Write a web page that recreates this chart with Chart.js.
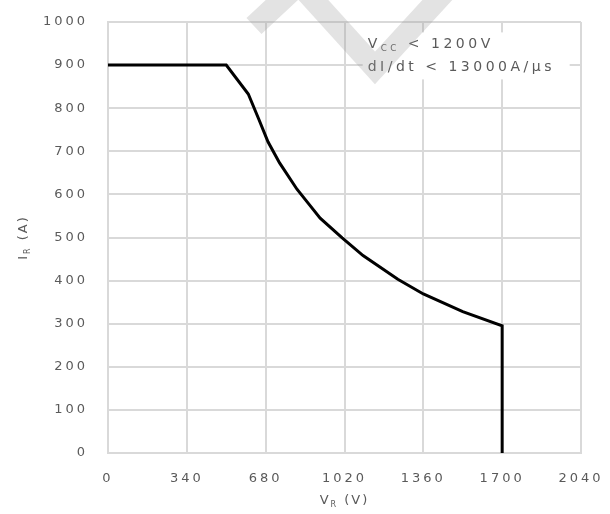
<!DOCTYPE html>
<html>
<head>
<meta charset="utf-8">
<script src="https://cdn.jsdelivr.net/npm/chart.js@4.4.0/dist/chart.umd.min.js"></script>
<style>
  body { margin: 0; background: #fff; }
  #wrap { width: 610px; height: 514px; }
</style>
</head>
<body>
<div id="wrap"><canvas id="rbsoa" width="610" height="514"></canvas></div>
<script>
// reverse bias safe operating area
const vR = [0, 510, 605, 650, 690, 740, 815, 870, 915, 1010, 1100, 1250, 1360, 1530, 1700, 1700];
const iR = [900, 900, 833, 775, 722, 673, 612, 575, 545, 499, 458, 403, 369, 328, 295, 0];

const xTicks = [0, 340, 680, 1020, 1360, 1700, 2040];
const yTicks = [0, 100, 200, 300, 400, 500, 600, 700, 800, 900, 1000];

// text pieces, sub = subscript
const xTitle = [{ t: 'V' }, { t: 'R', sub: true }, { t: ' (V)' }];
const yTitle = [{ t: 'I' }, { t: 'R', sub: true }, { t: ' (A)' }];
const noteLine1 = [{ t: 'V' }, { t: 'CC', sub: true }, { t: ' < 1200V' }];
const noteLine2 = [{ t: 'dI/dt < 13000A/\u03bcs' }];

const FONT = 'DejaVu Sans';
const GAP = '3px';
const TXT = '#5a5a5a';
const GRID = '#d9d9d9';

function richWidth(ctx, parts, size) {
    let w = 0;
    parts.forEach(p => {
        ctx.font = (p.sub ? size * 0.62 : size) + 'px "' + FONT + '"';
        w += ctx.measureText(p.t).width;
    });
    return w;
}

function drawRich(ctx, parts, x, y, size) {
    ctx.textBaseline = 'middle';
    ctx.textAlign = 'left';
    parts.forEach(p => {
        const s = p.sub ? size * 0.62 : size;
        ctx.font = s + 'px "' + FONT + '"';
        ctx.fillText(p.t, x, p.sub ? y + size * 0.3 : y);
        x += ctx.measureText(p.t).width;
    });
}

const overlay = {
    id: 'overlay',
    beforeUpdate(chart) { chart.ctx.letterSpacing = GAP; },
    beforeDraw(chart) { chart.ctx.letterSpacing = GAP; },
    afterDraw(chart) {
        const ctx = chart.ctx;
        const area = chart.chartArea;
        const xs = chart.scales.x, ys = chart.scales.y;
        ctx.save();
        ctx.fillStyle = TXT;

        // axis titles
        ctx.letterSpacing = '2px';
        const cx = (area.left + area.right) / 2;
        drawRich(ctx, xTitle, cx - richWidth(ctx, xTitle, 13) / 2, area.bottom + 48, 13);

        const cy = (area.top + area.bottom) / 2;
        ctx.save();
        ctx.translate(24, cy);
        ctx.rotate(-Math.PI / 2);
        drawRich(ctx, yTitle, -richWidth(ctx, yTitle, 13) / 2, 0, 13);
        ctx.restore();

        // note box in the upper right
        ctx.letterSpacing = '3.5px';
        const nx = xs.getPixelForValue(1120);
        const y1 = ys.getPixelForValue(948);
        const y2 = ys.getPixelForValue(895);
        ctx.fillStyle = '#fff';
        ctx.fillRect(nx - 5, y1 - 12, 207, 47);
        ctx.fillStyle = TXT;
        drawRich(ctx, noteLine1, nx, y1, 14);
        drawRich(ctx, noteLine2, nx, y2, 14);

        // light grey watermark stroke
        ctx.strokeStyle = 'rgba(150,150,150,0.27)';
        ctx.lineWidth = 22;
        ctx.lineJoin = 'miter';
        ctx.beginPath();
        ctx.moveTo(254, 26);
        ctx.lineTo(299, -16);
        ctx.lineTo(375, 68);
        ctx.lineTo(452, -16);
        ctx.stroke();
        ctx.restore();
    }
};

new Chart(document.getElementById('rbsoa'), {
    type: 'scatter',
    data: {
        datasets: [{
            data: vR.map((v, i) => ({ x: v, y: iR[i] })),
            showLine: true,
            borderColor: '#000',
            borderWidth: 3,
            pointRadius: 0,
            tension: 0
        }]
    },
    options: {
        responsive: false,
        animation: false,
        layout: { padding: { top: 22, right: 29, left: 0, bottom: 0 } },
        plugins: { legend: { display: false }, tooltip: { enabled: false } },
        scales: {
            x: {
                type: 'linear',
                min: 0,
                max: 2040,
                afterBuildTicks: s => { s.ticks = xTicks.map(v => ({ value: v })); },
                afterFit: s => { s.height = 61; s.paddingLeft = 0; s.paddingRight = 0; },
                grid: { color: GRID, lineWidth: 2, drawTicks: false },
                border: { color: GRID, width: 2 },
                ticks: {
                    autoSkip: false,
                    maxRotation: 0,
                    padding: 18,
                    color: TXT,
                    font: { family: FONT, size: 13 },
                    callback: v => String(v)
                }
            },
            y: {
                min: 0,
                max: 1000,
                afterBuildTicks: s => { s.ticks = yTicks.map(v => ({ value: v })); },
                afterFit: s => { s.width = 108; s.paddingTop = 0; s.paddingBottom = 0; },
                grid: { color: GRID, lineWidth: 2, drawTicks: false },
                border: { color: GRID, width: 2 },
                ticks: {
                    padding: 20,
                    color: TXT,
                    font: { family: FONT, size: 13 },
                    callback: v => String(v)
                }
            }
        }
    },
    plugins: [overlay]
});
</script>
</body>
</html>
